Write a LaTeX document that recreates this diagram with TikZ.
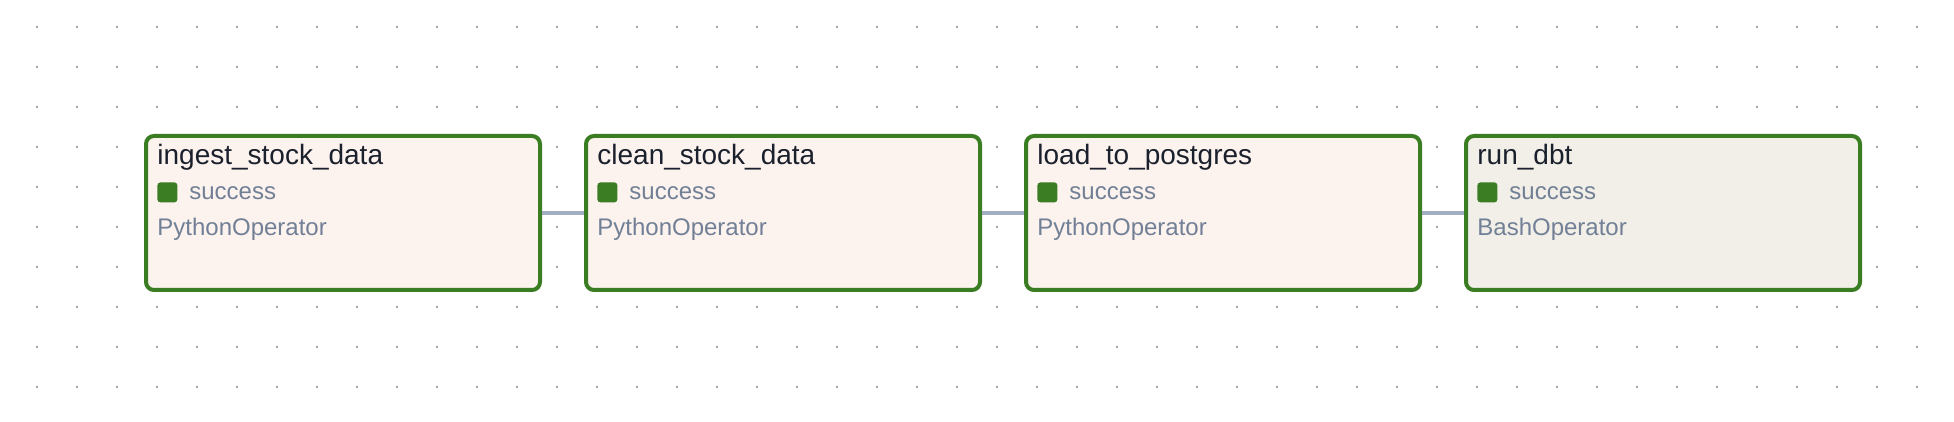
\documentclass[tikz,border=0pt]{standalone}
\usepackage{fontspec}
\setmainfont{Liberation Sans}
\definecolor{okgreen}{RGB}{58,125,35}
\definecolor{pyfill}{RGB}{252,242,238}
\definecolor{bashfill}{RGB}{242,239,232}
\definecolor{titlec}{RGB}{26,32,44}
\definecolor{mutedc}{RGB}{113,128,150}
\definecolor{edgec}{RGB}{160,174,192}
\definecolor{dotc}{RGB}{165,165,165}
\tikzset{
  taskbox/.style={draw=okgreen, line width=2pt, rounded corners=4pt, anchor=north west,
    minimum width=197pt, minimum height=77pt, inner sep=0pt},
  tasktitle/.style={anchor=base west, inner sep=0pt, text=titlec, font=\fontsize{14}{16}\selectfont},
  statebox/.style={fill=okgreen, rounded corners=1.5pt, anchor=north west,
    minimum size=10pt, inner sep=0pt},
  statetext/.style={anchor=base west, inner sep=0pt, text=mutedc, font=\fontsize{12}{14}\selectfont},
  optext/.style={anchor=base west, inner sep=0pt, text=mutedc, font=\fontsize{12}{14}\selectfont},
  edge/.style={draw=edgec, line width=2pt}
}
\begin{document}
\begin{tikzpicture}[x=0.5pt, y=-0.5pt]
\useasboundingbox (0,0) rectangle (1954,422);
\fill[white] (0,0) rectangle (1954,422);
% dotted background
\foreach \gx in {37,77,...,1917}
  \foreach \gy in {27,67,...,387}
    \fill[dotc] (\gx-1,\gy-1) rectangle +(2,2);
% tasks
\foreach \i/\name/\op/\fillc in {1/ingest\_stock\_data/PythonOperator/pyfill,
    2/clean\_stock\_data/PythonOperator/pyfill,
    3/load\_to\_postgres/PythonOperator/pyfill,
    4/run\_dbt/BashOperator/bashfill} {
  \pgfmathsetmacro\x{144+440*(\i-1)}
  \node[taskbox, fill=\fillc] (t\i) at (\x,134) {};
  \node[tasktitle] (t\i-title) at (\x+13,165) {\name};
  \node[statebox] (t\i-state) at (\x+13,182) {};
  \node[statetext] (t\i-statetext) at (\x+45,200) {success};
  \node[optext] (t\i-op) at (\x+13,236) {\op};
}
% dependencies
\draw[edge] (t1.east) -- (t2.west);
\draw[edge] (t2.east) -- (t3.west);
\draw[edge] (t3.east) -- (t4.west);
\end{tikzpicture}
\end{document}
